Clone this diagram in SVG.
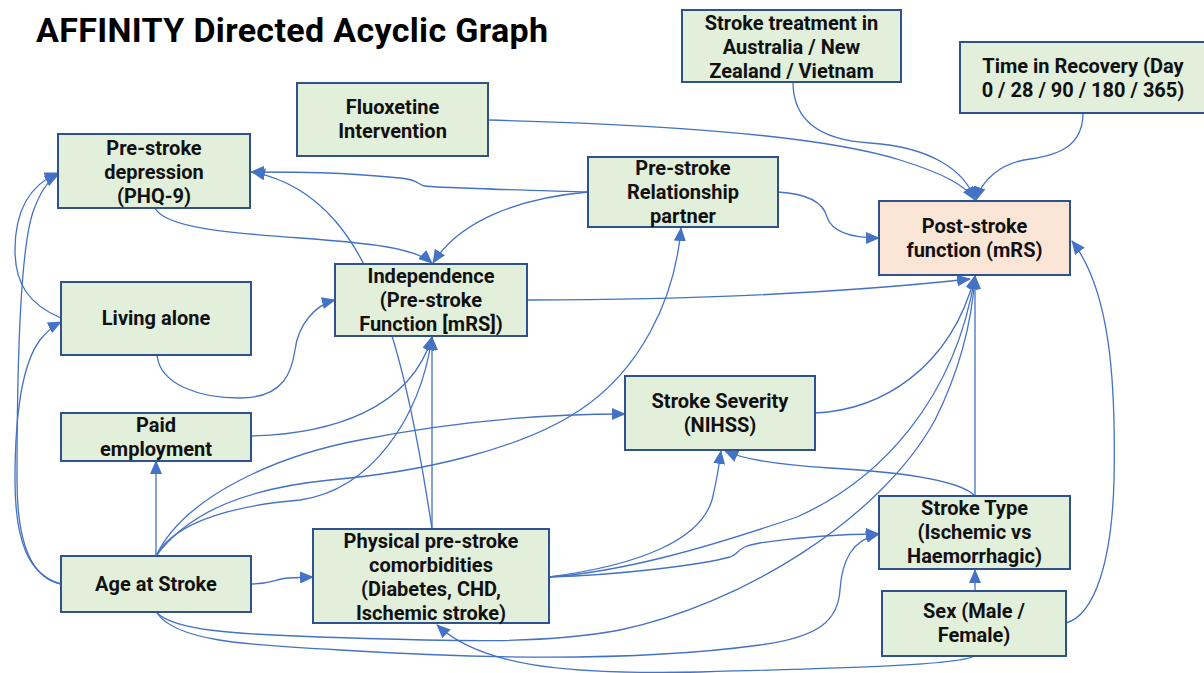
<svg xmlns="http://www.w3.org/2000/svg" width="1204" height="673" viewBox="0 0 1204 673">
<style>
.box{fill:#e2efda;stroke:#2f528f;stroke-width:2}
.out{fill:#fbe5d6;stroke:#2f528f;stroke-width:2}
.t{font-family:Roboto,"Liberation Sans",sans-serif;font-weight:700;font-size:20px;fill:#111;text-anchor:middle}
.title{font-family:Roboto,"Liberation Sans",sans-serif;font-weight:700;font-size:34px;fill:#000}
.e{fill:none;stroke:#4472c4;stroke-width:1.3;marker-end:url(#ah)}
</style>
<defs>
<marker id="ah" viewBox="0 0 14 12" refX="13" refY="6" markerWidth="14" markerHeight="12" markerUnits="userSpaceOnUse" orient="auto">
<path d="M0,0 L14,6 L0,12 z" fill="#4472c4"/>
</marker>
</defs>
<rect width="1204" height="673" fill="#fff"/>
<text class="title" x="36" y="42" textLength="512">AFFINITY Directed Acyclic Graph</text>
<g id="connectors">
<path class="e" d="M488,120 C650,124 820,135 900,160 C945,174 966,186 975,200"/>
<path class="e" d="M793,82 C793,120 820,140 870,143 C930,147 965,170 975,200"/>
<path class="e" d="M1083,113 C1083,145 1060,155 1030,159 C1000,163 982,180 976,200"/>
<path class="e" d="M778,192 C812,194 824,205 827,217 C832,232 850,238 879,238"/>
<path class="e" d="M588,192 C520,190 440,188 425,186 C418,185 420,180 400,178 C340,172 300,172 251,172"/>
<path class="e" d="M432,529 C420,450 405,370 385,315 C360,240 320,185 252,172"/>
<path class="e" d="M155,208 C165,228 230,233 300,238 C370,243 415,248 432,263"/>
<path class="e" d="M588,192 C520,198 460,220 433,263"/>
<path class="e" d="M61,318 C30,305 15,285 15,250 C15,210 30,185 58,173"/>
<path class="e" d="M61,584 C30,578 17,540 17,480 C17,380 20,250 33,212 C40,192 48,180 58,175"/>
<path class="e" d="M61,584 C28,575 15,540 15,480 C15,400 25,360 40,340 C48,330 53,326 61,322"/>
<path class="e" d="M156,556 L156,461"/>
<path class="e" d="M156,556 C175,520 240,505 300,500 C370,490 420,420 432,337"/>
<path class="e" d="M156,556 C185,495 280,455 360,440 C450,422 540,414 625,414"/>
<path class="e" d="M156,556 C190,510 250,488 330,480 C420,472 520,450 580,410 C640,370 675,300 681,228"/>
<path class="e" d="M251,436 C330,434 410,410 432,337"/>
<path class="e" d="M157,355 C160,385 200,398 240,398 C285,398 292,370 295,350 C298,325 315,305 335,300"/>
<path class="e" d="M432,529 L432,337"/>
<path class="e" d="M251,584 C270,584 276,579 288,578 L313,577"/>
<path class="e" d="M527,300 C700,300 850,292 970,279"/>
<path class="e" d="M815,413 C880,410 950,370 975,276"/>
<path class="e" d="M549,577 C620,572 700,550 797,517 C880,480 955,400 975,276"/>
<path class="e" d="M157,613 C175,630 230,634 320,637 C450,641 540,645 620,630 C740,605 880,520 935,420 C960,370 972,320 975,276"/>
<path class="e" d="M975,496 L975,276"/>
<path class="e" d="M975,496 C960,480 900,472 830,468 C780,465 745,460 725,451"/>
<path class="e" d="M549,577 C640,565 700,540 712,500 C717,480 719,465 721,451"/>
<path class="e" d="M549,577 C620,575 700,565 730,557 C740,554 735,547 760,543 C800,537 840,534 879,534"/>
<path class="e" d="M157,613 C175,640 240,645 340,650 C500,660 650,660 760,645 C820,637 838,620 840,590 C842,560 852,540 879,534"/>
<path class="e" d="M975,591 L975,570"/>
<path class="e" d="M1066,623 C1095,615 1112,560 1114,480 C1116,380 1110,290 1072,241"/>
<path class="e" d="M974,656 C960,665 850,668 700,672 C560,675 480,665 437,625"/>
</g>
<g id="fluoxetine"><rect class="box" x="297" y="83" width="191" height="73"/><text class="t" x="392.5" y="114">Fluoxetine</text><text class="t" x="392.5" y="138">Intervention</text></g>
<g id="treatment"><rect class="box" x="682" y="10" width="219" height="72"/><text class="t" x="791.5" y="30">Stroke treatment in</text><text class="t" x="791.5" y="54">Australia / New</text><text class="t" x="791.5" y="78">Zealand / Vietnam</text></g>
<g id="time"><rect class="box" x="960" y="42" width="260" height="71"/><text class="t" x="1083" y="73">Time in Recovery (Day</text><text class="t" x="1083" y="97">0 / 28 / 90 / 180 / 365)</text></g>
<g id="depression"><rect class="box" x="58" y="134" width="192" height="74"/><text class="t" x="154" y="155">Pre-stroke</text><text class="t" x="154" y="179">depression</text><text class="t" x="154" y="203">(PHQ-9)</text></g>
<g id="partner"><rect class="box" x="588" y="157" width="190" height="70"/><text class="t" x="683" y="175">Pre-stroke</text><text class="t" x="683" y="199">Relationship</text><text class="t" x="683" y="223">partner</text></g>
<g id="poststroke"><rect class="out" x="879" y="201" width="191" height="74"/><text class="t" x="974.5" y="233">Post-stroke</text><text class="t" x="974.5" y="257">function (mRS)</text></g>
<g id="living"><rect class="box" x="61" y="282" width="190" height="73"/><text class="t" x="156" y="325">Living alone</text></g>
<g id="independence"><rect class="box" x="335" y="264" width="192" height="72"/><text class="t" x="431" y="283">Independence</text><text class="t" x="431" y="307">(Pre-stroke</text><text class="t" x="431" y="331">Function [mRS])</text></g>
<g id="severity"><rect class="box" x="625" y="376" width="190" height="74"/><text class="t" x="720" y="408">Stroke Severity</text><text class="t" x="720" y="432">(NIHSS)</text></g>
<g id="paid"><rect class="box" x="61" y="413" width="190" height="48"/><text class="t" x="156" y="432">Paid</text><text class="t" x="156" y="456">employment</text></g>
<g id="comorbid"><rect class="box" x="313" y="529" width="236" height="94"/><text class="t" x="431" y="548">Physical pre-stroke</text><text class="t" x="431" y="572">comorbidities</text><text class="t" x="431" y="596">(Diabetes, CHD,</text><text class="t" x="431" y="620">Ischemic stroke)</text></g>
<g id="age"><rect class="box" x="61" y="556" width="190" height="56"/><text class="t" x="156" y="591">Age at Stroke</text></g>
<g id="stroketype"><rect class="box" x="879" y="496" width="191" height="73"/><text class="t" x="974.5" y="515">Stroke Type</text><text class="t" x="974.5" y="539">(Ischemic vs</text><text class="t" x="974.5" y="563">Haemorrhagic)</text></g>
<g id="sex"><rect class="box" x="882" y="591" width="184" height="65"/><text class="t" x="974" y="618">Sex (Male /</text><text class="t" x="974" y="642">Female)</text></g>
</svg>
